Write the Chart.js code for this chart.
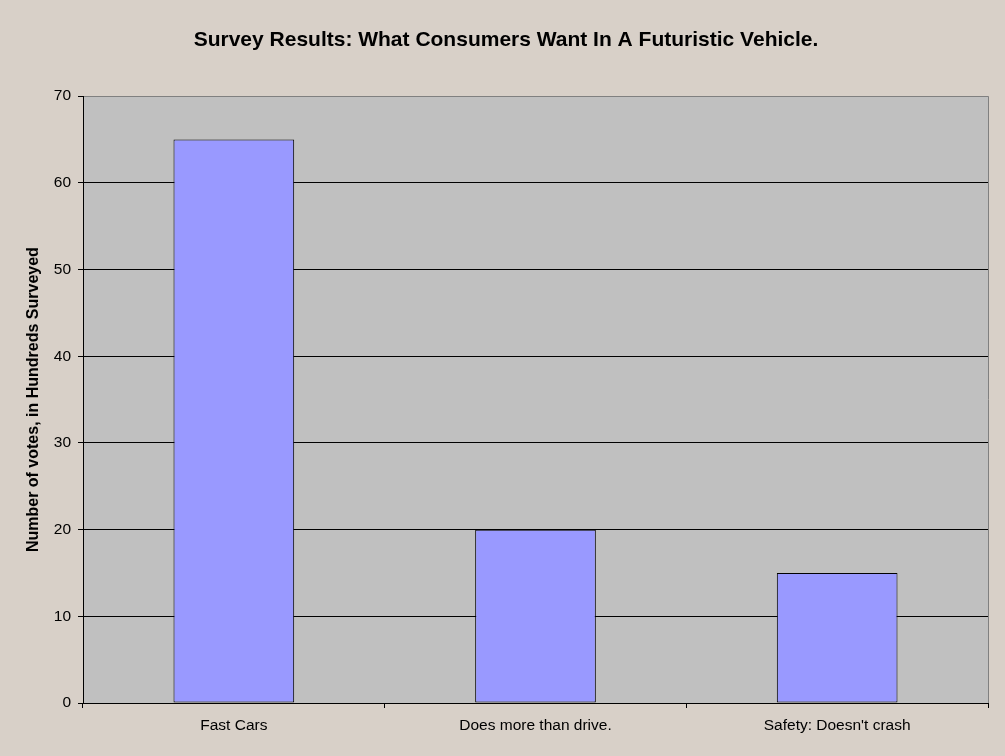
<!DOCTYPE html>
<html>
<head>
<meta charset="utf-8">
<script src="https://cdn.jsdelivr.net/npm/chart.js@4/dist/chart.umd.min.js"></script>
<style>
  html, body { margin: 0; padding: 0; background: #d8d0c8; }
  #wrap { width: 1005px; height: 756px; }
</style>
</head>
<body>
<div id="wrap"><canvas id="surveyChart" width="1005" height="756"></canvas></div>
<script>
const categories = ['Fast Cars', 'Does more than drive.', "Safety: Doesn't crash"];
const votes = [65, 20, 15];
const yTicks = [0, 10, 20, 30, 40, 50, 60, 70];

// plot area background + gray right edge, like the old spreadsheet charts
const plotFrame = {
  id: 'plotFrame',
  beforeDraw(chart) {
    const { ctx, chartArea: a } = chart;
    ctx.save();
    ctx.fillStyle = '#c0c0c0';
    ctx.fillRect(a.left, a.top, a.right - a.left, a.bottom - a.top);
    ctx.strokeStyle = '#808080';
    ctx.lineWidth = 1;
    ctx.beginPath();
    ctx.moveTo(a.right + 0.5, a.top);
    ctx.lineTo(a.right + 0.5, a.bottom);
    ctx.stroke();
    ctx.restore();
  }
};

const ctx = document.getElementById('surveyChart').getContext('2d');
new Chart(ctx, {
  type: 'bar',
  data: {
    labels: categories,
    datasets: [{
      label: 'Votes',
      data: votes,
      backgroundColor: '#9999ff',
      borderColor: '#000000',
      borderWidth: 1,
      borderSkipped: false,
      categoryPercentage: 1.0,
      barPercentage: 0.4
    }]
  },
  options: {
    responsive: false,
    animation: false,
    devicePixelRatio: 1,
    layout: { padding: { left: 24, right: 17, top: 0, bottom: 0 } },
    plugins: {
      legend: { display: false },
      tooltip: { enabled: false },
      title: {
        display: true,
        text: 'Survey Results: What Consumers Want In A Futuristic Vehicle.',
        color: '#000000',
        font: { family: 'Liberation Sans, Arial, sans-serif', size: 21, weight: 'bold' },
        padding: { top: 28, bottom: 43 }
      }
    },
    scales: {
      x: {
        offset: true,
        border: { display: true, color: '#000000', width: 1 },
        grid: {
          offset: true,
          drawOnChartArea: false,
          drawTicks: true,
          tickLength: 5,
          tickColor: '#000000'
        },
        ticks: {
          color: '#000000',
          padding: 8,
          font: { family: 'Liberation Sans, Arial, sans-serif', size: 15.5 }
        },
        afterFit(scale) { scale.height = 53; }
      },
      y: {
        min: 0,
        max: 70,
        afterBuildTicks(scale) { scale.ticks = yTicks.map(v => ({ value: v })); },
        border: { display: true, color: '#000000', width: 1 },
        grid: {
          color: c => (c.tick && c.tick.value === 70 ? '#808080' : '#000000'),
          tickColor: '#000000',
          tickLength: 5,
          drawTicks: true
        },
        ticks: {
          color: '#000000',
          padding: 7,
          font: { family: 'Liberation Sans, Arial, sans-serif', size: 15.5 }
        },
        title: {
          display: true,
          text: 'Number of votes, in Hundreds Surveyed',
          color: '#000000',
          font: { family: 'Liberation Sans, Arial, sans-serif', size: 16, weight: 'bold' },
          padding: { top: 0, bottom: 0 }
        },
        afterFit(scale) { scale.width = 59; }
      }
    }
  },
  plugins: [plotFrame]
});
</script>
</body>
</html>
